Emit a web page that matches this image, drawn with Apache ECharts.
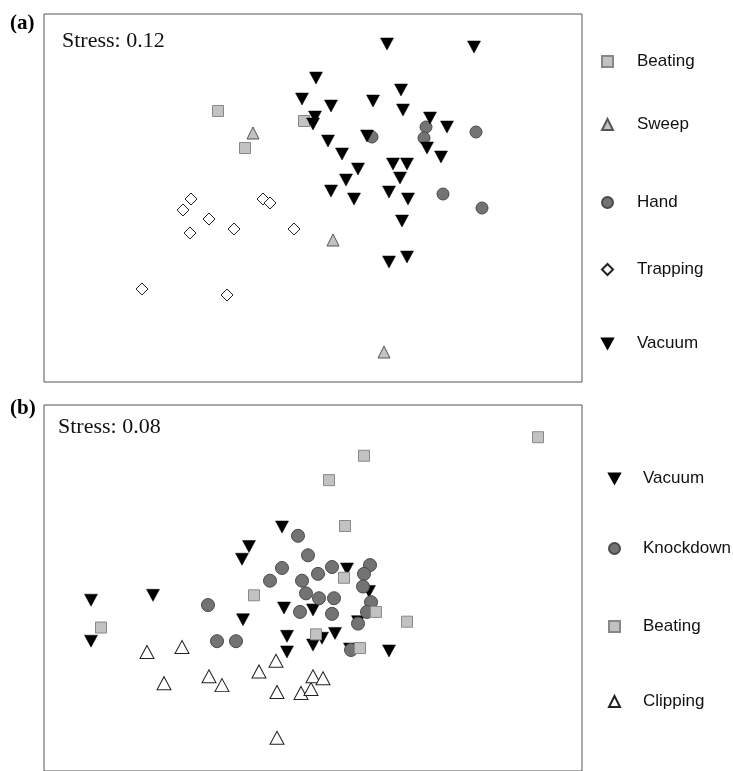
<!DOCTYPE html>
<html>
<head>
<meta charset="utf-8">
<script src="https://cdn.jsdelivr.net/npm/echarts@6/dist/echarts.min.js"></script>
<style>html,body{margin:0;padding:0;background:#fff;}#c{width:733px;height:771px;}</style>
</head>
<body>
<div id="c"></div>
<script>
// MDS ordination coordinates (arbitrary units)
// Panel (a)
const aBeating = [[-0.95,0.87],[-0.68,0.50],[-0.09,0.77]];
const aSweep = [[-0.60,0.65],[0.20,-0.42],[0.71,-1.54]];
const aHand = [[0.59,0.61],[1.13,0.71],[1.11,0.60],[1.63,0.66],[1.30,0.04],[1.69,-0.10]];
const aTrapping = [[-1.22,-0.01],[-1.30,-0.12],[-1.04,-0.21],[-1.23,-0.35],[-0.79,-0.31],[-0.50,-0.01],[-0.43,-0.05],[-0.19,-0.31],[-1.71,-0.91],[-0.86,-0.97]];
const aVacuum = [[0.74,1.54],[1.61,1.51],[0.03,1.20],[0.88,1.08],[-0.11,0.99],[0.18,0.92],[0.60,0.97],[0.90,0.88],[0.02,0.81],[0.00,0.74],[1.17,0.80],[1.34,0.71],[0.54,0.62],[0.15,0.57],[1.14,0.50],[1.28,0.41],[0.29,0.44],[0.45,0.29],[0.80,0.34],[0.94,0.34],[0.33,0.18],[0.87,0.20],[0.18,0.07],[0.41,-0.01],[0.76,0.06],[0.95,-0.01],[0.89,-0.23],[0.76,-0.64],[0.94,-0.59]];
// Panel (b)
const bVacuum = [[-0.31,0.58],[-0.64,0.38],[-0.71,0.25],[0.34,0.15],[0.56,-0.08],[-0.29,-0.25],[0.00,-0.27],[-0.70,-0.37],[0.22,-0.51],[-0.26,-0.54],[0.09,-0.56],[0.00,-0.63],[-0.26,-0.70],[0.76,-0.69],[-2.22,-0.17],[-1.60,-0.12],[-2.22,-0.59],[0.45,-0.39],[0.37,-0.67]];
const bKnockdown = [[-0.15,0.49],[-0.05,0.29],[-0.31,0.16],[-0.43,0.03],[-0.11,0.03],[0.05,0.10],[0.19,0.17],[0.57,0.19],[0.51,0.10],[0.50,-0.03],[-0.07,-0.10],[0.06,-0.15],[0.21,-0.15],[-1.05,-0.22],[0.58,-0.19],[0.54,-0.29],[-0.13,-0.29],[0.19,-0.31],[0.45,-0.41],[-0.96,-0.59],[-0.77,-0.59],[0.38,-0.68]];
const bBeating = [[2.25,1.50],[0.51,1.31],[0.16,1.06],[0.32,0.59],[0.31,0.06],[-0.59,-0.12],[0.63,-0.29],[0.94,-0.39],[0.03,-0.52],[0.47,-0.66],[-2.12,-0.45]];
const bClipping = [[-1.66,-0.70],[-1.31,-0.65],[-1.49,-1.02],[-1.04,-0.95],[-0.91,-1.04],[-0.54,-0.90],[-0.37,-0.79],[-0.36,-1.11],[-0.12,-1.12],[-0.02,-1.08],[0.00,-0.95],[0.10,-0.97],[-0.36,-1.58]];

const legendA = ['Beating','Sweep','Hand','Trapping','Vacuum'];
const legendB = ['Vacuum','Knockdown','Beating','Clipping'];
const panelLabels = ['(a)','(b)'];
const stressLabels = ['Stress: 0.12','Stress: 0.08'];

const DOWN = 'path://M0,0L10,0L5,9Z';
const styles = {
  Beating: {symbol:'rect', size:11, itemStyle:{color:'#c2c2c2', borderColor:'#888', borderWidth:1, opacity:1}},
  Sweep: {symbol:'triangle', size:[12,12], itemStyle:{color:'#c2c2c2', borderColor:'#555', borderWidth:1, opacity:1}},
  Hand: {symbol:'circle', size:12, itemStyle:{color:'#737373', borderColor:'#4a4a4a', borderWidth:1, opacity:1}},
  Knockdown: {symbol:'circle', size:13, itemStyle:{color:'#737373', borderColor:'#4a4a4a', borderWidth:1, opacity:1}},
  Trapping: {symbol:'diamond', size:12, itemStyle:{color:'#fff', borderColor:'#222', borderWidth:1, opacity:1}},
  Vacuum: {symbol:DOWN, size:[13,12], itemStyle:{color:'#000', borderColor:'#000', borderWidth:0.5, opacity:1}},
  Clipping: {symbol:'triangle', size:[14,13], itemStyle:{color:'#fff', borderColor:'#222', borderWidth:1, opacity:1}}
};

function ser(name, data, gi){
  const s = styles[name];
  return {type:'scatter', name:name, data:data, xAxisIndex:gi, yAxisIndex:gi,
    symbol:s.symbol, symbolSize:s.size, itemStyle:s.itemStyle, emphasis:{disabled:true}, z:2};
}

const axisHidden = {axisLine:{show:false}, axisTick:{show:false}, axisLabel:{show:false}, splitLine:{show:false}};

const legendTopsA = [53,116,194,261,335];
const legendTopsB = [470,540,618,693];
const legends = [];
legendA.forEach((n,i)=>legends.push({data:[n], left:601, top:legendTopsA[i], padding:0, itemWidth:11, itemHeight:11, selectedMode:false,
  textStyle:{fontFamily:'Liberation Sans', fontSize:17, color:'#111', padding:[0,0,0,19]}}));
legendB.forEach((n,i)=>legends.push({data:[n], left:608, top:legendTopsB[i], padding:0, itemWidth:11, itemHeight:11, selectedMode:false,
  textStyle:{fontFamily:'Liberation Sans', fontSize:17, color:'#111', padding:[0,0,0,18]}}));

const option = {
  animation:false,
  backgroundColor:'#fff',
  title:[
    {text:panelLabels[0], left:10, top:13, padding:0, textStyle:{fontFamily:'Liberation Serif', fontWeight:'bold', fontSize:21, color:'#000'}},
    {text:stressLabels[0], left:62, top:30, padding:0, textStyle:{fontFamily:'Liberation Serif', fontWeight:'normal', fontSize:22, color:'#111'}},
    {text:panelLabels[1], left:10, top:398, padding:0, textStyle:{fontFamily:'Liberation Serif', fontWeight:'bold', fontSize:21, color:'#000'}},
    {text:stressLabels[1], left:58, top:416, padding:0, textStyle:{fontFamily:'Liberation Serif', fontWeight:'normal', fontSize:22, color:'#111'}}
  ],
  legend:legends,
  grid:[
    {left:44, top:14, width:538, height:368, show:true, borderColor:'#555', borderWidth:1, backgroundColor:'transparent'},
    {left:44, top:405, width:538, height:375, show:true, borderColor:'#555', borderWidth:1, backgroundColor:'transparent'}
  ],
  xAxis:[
    Object.assign({type:'value', gridIndex:0, min:-2.69, max:2.69}, axisHidden),
    Object.assign({type:'value', gridIndex:1, min:-2.69, max:2.69}, axisHidden)
  ],
  yAxis:[
    Object.assign({type:'value', gridIndex:0, min:-1.84, max:1.84}, axisHidden),
    Object.assign({type:'value', gridIndex:1, min:-1.92, max:1.83}, axisHidden)
  ],
  series:[
    ser('Trapping', aTrapping, 0),
    ser('Beating', aBeating, 0),
    ser('Sweep', aSweep, 0),
    ser('Hand', aHand, 0),
    ser('Vacuum', aVacuum, 0),
    ser('Clipping', bClipping, 1),
    ser('Vacuum', bVacuum, 1),
    ser('Knockdown', bKnockdown, 1),
    ser('Beating', bBeating, 1)
  ]
};
const chart = echarts.init(document.getElementById('c'), null, {renderer:'canvas'});
chart.setOption(option);
</script>
</body>
</html>
